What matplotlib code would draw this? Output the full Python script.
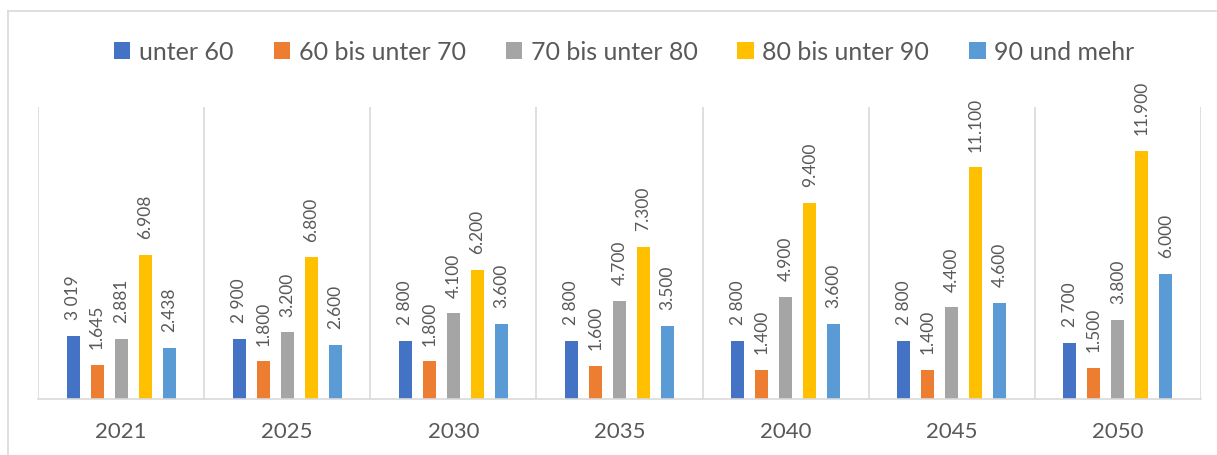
import numpy as np
import matplotlib.pyplot as plt
from matplotlib.lines import Line2D

plt.rcParams['font.family'] = ['Lato', 'DejaVu Sans']

years = ['2021', '2025', '2030', '2035', '2040', '2045', '2050']
series_names = ['unter 60', '60 bis unter 70', '70 bis unter 80',
                '80 bis unter 90', '90 und mehr']
unter_60 = [3019, 2900, 2800, 2800, 2800, 2800, 2700]
bis_70 = [1645, 1800, 1800, 1600, 1400, 1400, 1500]
bis_80 = [2881, 3200, 4100, 4700, 4900, 4400, 3800]
bis_90 = [6908, 6800, 6200, 7300, 9400, 11100, 11900]
ab_90 = [2438, 2600, 3600, 3500, 3600, 4600, 6000]

colors = ['#4472C4', '#ED7D31', '#A5A5A5', '#FFC000', '#5B9BD5']
text_col = '#595959'
line_col = '#D9D9D9'

fig = plt.figure(figsize=(12.17, 4.56), dpi=100)
ax = fig.add_axes([38 / 1217, 56 / 456, (1201 - 38) / 1217, 292 / 456])

x = np.arange(len(years))
pitch = 24 / 166
width = 13 / 166

all_series = [unter_60, bis_70, bis_80, bis_90, ab_90]
for i, vals in enumerate(all_series):
    bars = ax.bar(x + (i - 2) * pitch, vals, width, color=colors[i],
                  label=series_names[i])
    sep = ' ' if i == 0 else '.'
    labels = [f'{v:,}'.replace(',', sep) for v in vals]
    ax.bar_label(bars, labels=labels, rotation=90, padding=12,
                 fontsize=12.5, color=text_col)

ax.set_xlim(-0.5, len(years) - 0.5)
ax.set_ylim(0, 14000)
ax.set_yticks([])
ax.set_xticks(x)
ax.set_xticklabels(years, fontsize=16, color=text_col)
ax.tick_params(axis='x', length=0, pad=16)

for s in ['top', 'right', 'left']:
    ax.spines[s].set_visible(False)
ax.spines['bottom'].set_color(line_col)
ax.spines['bottom'].set_linewidth(1.2)

for b in np.arange(-0.5, len(years), 1.0):
    ax.axvline(b, color=line_col, linewidth=1.2, zorder=0)

# outer chart border (left and top visible)
fig.add_artist(Line2D([8 / 1217, 8 / 1217], [0, 1 - 12 / 456],
                      transform=fig.transFigure, color=line_col, lw=1.2))
fig.add_artist(Line2D([8 / 1217, 1], [1 - 12 / 456, 1 - 12 / 456],
                      transform=fig.transFigure, color=line_col, lw=1.2))

fig.legend(loc='center', bbox_to_anchor=(0.513, 1 - 53 / 456), ncol=5,
           frameon=False, fontsize=18, handlelength=0.65, handleheight=0.65,
           handletextpad=0.35, columnspacing=1.6, labelcolor=text_col)

fig.savefig('out.png', dpi=100)
